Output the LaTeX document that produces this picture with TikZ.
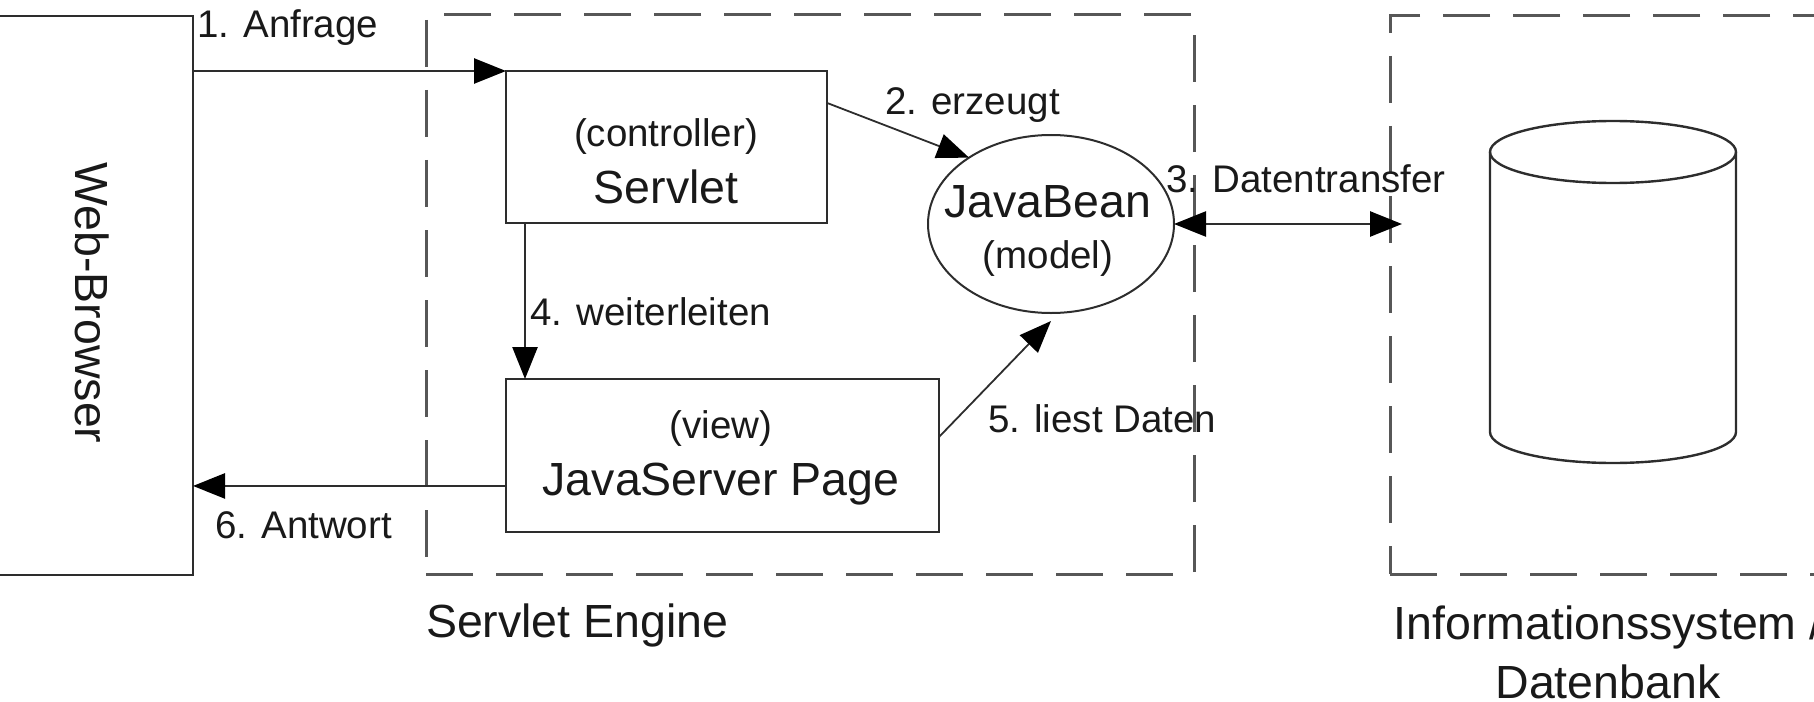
\documentclass[tikz,border=0pt]{standalone}
\usepackage{fontspec}
\setmainfont{Liberation Sans}
\usetikzlibrary{arrows.meta,calc,shapes.geometric}
\definecolor{ln}{RGB}{45,45,45}
\definecolor{tx}{RGB}{25,25,25}
\begin{document}
\begin{tikzpicture}[x=0.5pt,y=-0.5pt,
  every node/.style={inner sep=0pt, outer sep=0pt, text=tx},
  small/.style={font=\fontsize{19.25pt}{23pt}\selectfont},
  big/.style={font=\fontsize{23.25pt}{28pt}\selectfont},
  box/.style={draw=ln, line width=1.3pt, rectangle},
  dbox/.style={draw=ln!80, line width=1.5pt, rectangle, dash pattern=on 23.5pt off 11.5pt},
  tip/.style={Triangle[length=16pt,width=12.5pt,fill=black,color=black]},
  conn/.style={draw=ln, line width=1.3pt, -{Triangle[length=16pt,width=12.5pt,fill=black,color=black]}},
  thinconn/.style={draw=ln, line width=0.9pt, -{Triangle[length=16pt,width=12.5pt,fill=black,color=black]}},
  dblconn/.style={draw=ln, line width=1.3pt, {Triangle[length=16pt,width=12.5pt,fill=black,color=black]}-{Triangle[length=16pt,width=12.5pt,fill=black,color=black]}}
]
\useasboundingbox (0,0) rectangle (1814,701);
\clip (0,0) rectangle (1814,701);

% containers
\node[dbox, minimum width=384pt, minimum height=279.5pt] (engine) at (810,294.5) {};
\node[dbox, minimum width=218pt, minimum height=279pt] (info) at (1608,295) {};

% browser
\node[box, minimum width=101pt, minimum height=279.5pt] (browser) at (92,295.5) {};
\node[big, rotate=-90] (browsertext) at (92,303) {Web-Browser};

% servlet
\node[box, minimum width=160.5pt, minimum height=76pt] (servlet) at (666.5,147) {};
\node[small, anchor=base] (ctrltext) at (666,147) {(controller)};
\node[big, anchor=base] (servlettext) at (666,203) {Servlet};

% javabean
\node[ellipse, draw=ln, line width=1pt, minimum width=123pt, minimum height=89pt] (bean) at (1051,224) {};
\node[big, anchor=base] (beantext) at (1048,217) {JavaBean};
\node[small, anchor=base] (modeltext) at (1048,268) {(model)};

% jsp
\node[box, minimum width=216.5pt, minimum height=76.5pt] (jsp) at (722.5,455.5) {};
\node[small, anchor=base] (viewtext) at (721,438) {(view)};
\node[big, anchor=base] (jsptext) at (721,495) {JavaServer Page};

% database cylinder
\draw[ln, line width=1.2pt] (1613,152) ellipse [x radius=123, y radius=31];
\draw[ln, line width=1.2pt] (1490,152) -- (1490,432)
  arc[start angle=180, end angle=0, x radius=123, y radius=31] -- (1736,152);

% connectors
\draw[conn] (browser.east |- servlet.north west) -- (servlet.north west);
\draw[thinconn] ($(servlet.north east)!0.21!(servlet.south east)$) -- (bean.141);
\coordinate (dbend) at ([xshift=6pt]info.west |- bean.east);
\draw[dblconn] (bean.east) -- (dbend);
\coordinate (s4) at ($(servlet.south west)!0.0592!(servlet.south east)$);
\draw[conn] (s4) -- (s4 |- jsp.north);
\draw[thinconn] ($(jsp.north east)!0.379!(jsp.south east)$) -- ([yshift=-4pt]bean.south);
\coordinate (s6) at ($(jsp.north west)!0.699!(jsp.south west)$);
\draw[conn] (s6) -- (browser.east |- s6);

% labels
\node[small, anchor=base west] (l1) at (197,38) {1. Anfrage};
\node[small, anchor=base west] (l2) at (885,115) {2. erzeugt};
\node[small, anchor=base west] (l3) at (1166,192) {3. Datentransfer};
\node[small, anchor=base west] (l4) at (530,325) {4. weiterleiten};
\node[small, anchor=base west] (l5) at (988,432) {5. liest Daten};
\node[small, anchor=base west] (l6) at (215,538) {6. Antwort};
\node[big, anchor=base west] (enginetext) at (426,637) {Servlet Engine};
\node[big, anchor=base] (infotext1) at (1608,639) {Informationssystem /};
\node[big, anchor=base] (infotext2) at (1608,698) {Datenbank};
\end{tikzpicture}
\end{document}
